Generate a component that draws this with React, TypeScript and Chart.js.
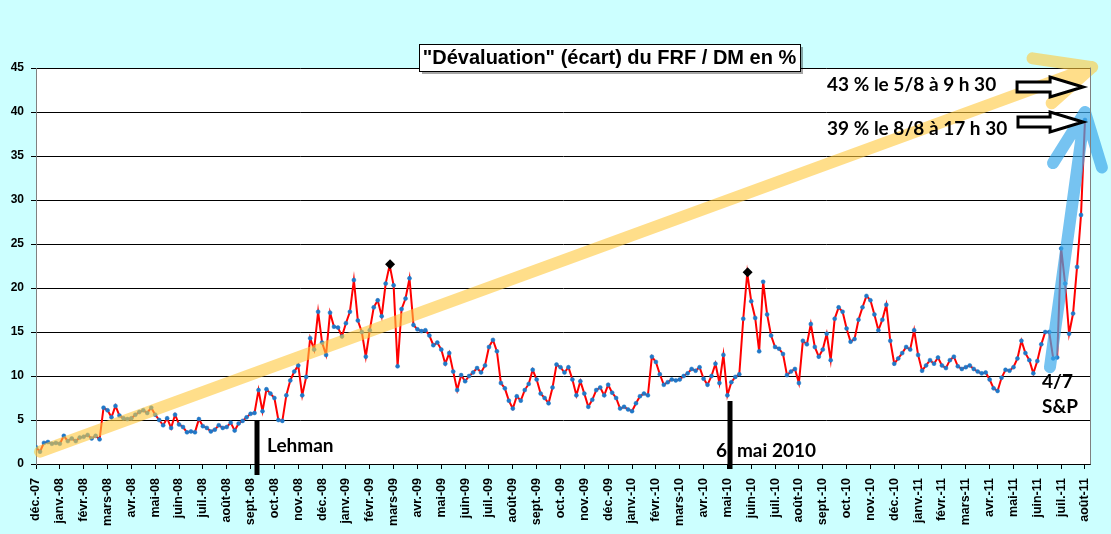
import React, { useEffect, useRef } from 'react';
import { Chart, registerables } from 'chart.js';

Chart.register(...registerables);

// Libellés des mois (un repère par début de mois)
const monthLabels = [
  'déc.-07',
  'janv.-08', 'févr.-08', 'mars-08', 'avr.-08', 'mai-08', 'juin-08', 'juil.-08', 'août-08', 'sept.-08', 'oct.-08', 'nov.-08', 'déc.-08',
  'janv.-09', 'févr.-09', 'mars-09', 'avr.-09', 'mai-09', 'juin-09', 'juil.-09', 'août-09', 'sept.-09', 'oct.-09', 'nov.-09', 'déc.-09',
  'janv.-10', 'févr.-10', 'mars-10', 'avr.-10', 'mai-10', 'juin-10', 'juil.-10', 'août-10', 'sept.-10', 'oct.-10', 'nov.-10', 'déc.-10',
  'janv.-11', 'févr.-11', 'mars-11', 'avr.-11', 'mai-11', 'juin-11', 'juil.-11', 'août-11',
];

const yTicks = [0, 5, 10, 15, 20, 25, 30, 35, 40, 45];

// 6 relevés par mois, écart en %
const perMonth = 6;
const v2007 = [1.9, 1.4, 2.4, 2.5, 2.3, 2.4];
const v2008 = [
  2.3, 3.2, 2.6, 2.9, 2.6, 3.0,
  3.1, 3.3, 2.9, 3.2, 2.8, 6.4,
  6.1, 5.3, 6.6, 5.5, 5.2, 5.1,
  5.2, 5.6, 5.9, 6.1, 5.8, 6.4,
  5.6, 5.0, 4.4, 5.2, 4.1, 5.6,
  4.5, 4.2, 3.6, 3.7, 3.6, 5.1,
  4.3, 4.1, 3.7, 3.9, 4.4, 4.1,
  4.2, 4.7, 3.8, 4.6, 4.9, 5.3,
  5.7, 5.8, 8.4, 6.0, 8.5, 8.0,
  7.5, 5.0, 4.9, 7.8, 9.5, 10.5,
  11.2, 7.8, 9.9, 14.3, 13.0, 17.3,
  13.8, 12.4, 17.2, 15.6, 15.5, 14.5,
];
const v2009 = [
  16.0, 17.3, 20.9, 16.3, 15.0, 12.2,
  15.2, 17.8, 18.6, 16.8, 20.5, 22.6,
  20.3, 11.1, 17.6, 18.8, 21.1, 15.8,
  15.3, 15.1, 15.2, 14.6, 13.5, 13.8,
  13.0, 11.4, 12.6, 10.5, 8.4, 10.1,
  9.4, 10.0, 10.4, 10.9, 10.4, 11.2,
  13.3, 14.1, 12.8, 9.2, 8.6, 7.2,
  6.3, 7.7, 7.2, 8.4, 9.1, 10.7,
  9.6, 8.0, 7.5, 6.9, 8.7, 11.3,
  11.0, 10.4, 11.0, 9.6, 7.8, 9.4,
  8.0, 6.5, 7.3, 8.4, 8.7, 7.8,
  9.0, 8.1, 7.5, 6.3, 6.5, 6.2,
];
const v2010 = [
  6.0, 6.9, 7.7, 8.0, 7.8, 12.2,
  11.6, 10.2, 9.0, 9.3, 9.6, 9.5,
  9.6, 10.0, 10.3, 10.8, 10.6, 11.0,
  9.7, 9.0, 10.0, 11.4, 9.2, 12.4,
  7.8, 9.3, 9.9, 10.2, 16.5, 21.7,
  18.5, 16.6, 12.8, 20.7, 17.0, 14.6,
  13.3, 13.1, 12.5, 10.1, 10.5, 10.8,
  9.2, 14.0, 13.6, 15.9, 13.3, 12.2,
  13.0, 14.8, 11.8, 16.5, 17.8, 17.3,
  15.4, 13.9, 14.2, 16.4, 17.8, 19.1,
  18.6, 17.0, 15.2, 16.4, 18.1, 14.0,
  11.4, 12.0, 12.6, 13.3, 13.0, 15.2,
];
const v2011 = [
  12.4, 10.6, 11.2, 11.8, 11.4, 12.1,
  11.2, 10.9, 11.8, 12.2, 11.1, 10.8,
  11.0, 11.2, 10.8, 10.5, 10.3, 10.4,
  9.6, 8.6, 8.3, 9.8, 10.7, 10.6,
  11.0, 12.0, 14.0, 12.6, 11.8, 10.3,
  11.7, 13.6, 15.0, 15.0, 12.0, 12.1,
  24.5, 20.5, 14.8, 17.1, 22.4, 28.3,
  39.1,
];

// Pics marqués d'un losange noir
const peakMonths = [14.85, 29.85];
const peakValues = [22.7, 21.8];

const series = [...v2007, ...v2008, ...v2009, ...v2010, ...v2011];
const points = series.map((y, i) => ({ x: i / perMonth, y }));
const peaks = peakMonths.map((x, i) => ({ x, y: peakValues[i] }));

const FONT = "'Liberation Sans', Arial, sans-serif";
const NOTE_FONT = "Lato, 'Noto Sans', sans-serif";

const decorations = {
  id: 'decorations',
  beforeDraw(chart: any) {
    const { ctx, chartArea: a } = chart;
    ctx.save();
    ctx.fillStyle = '#ccffff';
    ctx.fillRect(0, 0, chart.width, chart.height);
    ctx.fillStyle = '#ffffff';
    ctx.fillRect(a.left, a.top, a.right - a.left, a.bottom - a.top);
    ctx.restore();
  },
  afterDatasetsDraw(chart: any) {
    const { ctx, chartArea: a } = chart;
    const sx = chart.scales.x;
    const sy = chart.scales.y;
    const px = (v: number) => sx.getPixelForValue(v);
    const py = (v: number) => sy.getPixelForValue(v);
    ctx.save();

    // grosse flèche jaune (tendance)
    ctx.strokeStyle = 'rgba(255, 200, 60, 0.6)';
    ctx.lineWidth = 12;
    ctx.lineCap = 'round';
    ctx.lineJoin = 'round';
    ctx.beginPath();
    ctx.moveTo(px(0.17), py(1.4));
    ctx.lineTo(px(44.3), py(45.1));
    ctx.moveTo(px(41.8), py(46.1));
    ctx.lineTo(px(44.3), py(45.1));
    ctx.lineTo(px(42.6), py(41.0));
    ctx.stroke();

    // flèche bleue (4/7 S&P)
    ctx.strokeStyle = 'rgba(60, 170, 235, 0.7)';
    ctx.beginPath();
    ctx.moveTo(px(42.53), py(11.0));
    ctx.lineTo(px(44.0), py(40.0));
    ctx.moveTo(px(42.66), py(34.2));
    ctx.lineTo(px(44.0), py(40.0));
    ctx.lineTo(px(44.71), py(33.7));
    ctx.stroke();

    // repères verticaux
    ctx.fillStyle = '#000000';
    ctx.fillRect(px(9.27) - 2.5, py(4.9), 5, py(-1.25) - py(4.9));
    ctx.fillRect(px(29.11) - 2.5, py(7.16), 5, py(-0.57) - py(7.16));

    // flèches creuses noires
    const hollow = (x0: number, x1: number, yv: number) => {
      const l = px(x0);
      const r = px(x1);
      const c = py(yv);
      const h = r - 33;
      ctx.beginPath();
      ctx.moveTo(l, c - 5);
      ctx.lineTo(h, c - 5);
      ctx.lineTo(h, c - 10);
      ctx.lineTo(r, c);
      ctx.lineTo(h, c + 10);
      ctx.lineTo(h, c + 5);
      ctx.lineTo(l, c + 5);
      ctx.closePath();
      ctx.fillStyle = '#ffffff';
      ctx.fill();
      ctx.lineWidth = 3;
      ctx.lineJoin = 'miter';
      ctx.strokeStyle = '#000000';
      ctx.stroke();
    };
    hollow(41.15, 43.92, 42.84);
    hollow(41.19, 43.92, 38.86);

    // textes
    ctx.fillStyle = '#000000';
    ctx.font = `bold 19px ${NOTE_FONT}`;
    ctx.textBaseline = 'alphabetic';
    ctx.textAlign = 'left';
    ctx.fillText('43 % le 5/8 à 9 h 30', px(33.18), py(42.4));
    ctx.fillText('39 % le 8/8 à 17 h 30', px(33.18), py(37.4));
    ctx.fillText('Lehman', px(9.69), py(1.36));
    ctx.fillText('6', px(28.52), py(0.8));
    ctx.fillText('mai 2010', px(29.4), py(0.8));
    ctx.fillText('4/7', px(42.2), py(8.6));
    ctx.fillText('S&P', px(42.2), py(5.8));

    // bord droit de la zone de tracé
    ctx.strokeStyle = '#808080';
    ctx.lineWidth = 1;
    ctx.beginPath();
    ctx.moveTo(a.right + 0.5, a.top);
    ctx.lineTo(a.right + 0.5, a.bottom);
    ctx.stroke();
    ctx.restore();
  },
  afterDraw(chart: any) {
    const { ctx } = chart;
    ctx.save();
    // titre encadré
    const tx = 419;
    const ty = 44;
    const tw = 381;
    const th = 27;
    ctx.fillStyle = 'rgba(0, 0, 0, 0.35)';
    ctx.fillRect(tx + 3, ty + 3, tw, th);
    ctx.fillStyle = '#ffffff';
    ctx.fillRect(tx, ty, tw, th);
    ctx.strokeStyle = '#000000';
    ctx.lineWidth = 1;
    ctx.strokeRect(tx + 0.5, ty + 0.5, tw, th);
    ctx.fillStyle = '#000000';
    ctx.font = `bold 20px ${FONT}`;
    ctx.textAlign = 'center';
    ctx.textBaseline = 'middle';
    ctx.fillText('"Dévaluation" (écart) du FRF / DM en %', tx + tw / 2, ty + th / 2 + 1);
    ctx.restore();
  },
};

const DevaluationChart: React.FC = () => {
  const canvasRef = useRef<HTMLCanvasElement | null>(null);
  const chartRef = useRef<Chart | null>(null);

  useEffect(() => {
    if (!canvasRef.current) return;
    if (chartRef.current) chartRef.current.destroy();

    chartRef.current = new Chart(canvasRef.current, {
      type: 'line',
      data: {
        datasets: [
          {
            label: 'pics',
            data: peaks,
            showLine: false,
            pointStyle: 'rectRot',
            pointRadius: 5,
            backgroundColor: '#000000',
            borderColor: '#000000',
            borderWidth: 0,
          },
          {
            label: 'FRF / DM',
            data: points,
            borderColor: '#ff0000',
            borderWidth: 2,
            pointRadius: 2,
            pointBackgroundColor: '#1f78c8',
            pointBorderColor: '#1f78c8',
            pointBorderWidth: 0.5,
            tension: 0,
          },
        ],
      },
      options: {
        responsive: false,
        animation: false,
        layout: { padding: { top: 68, right: 21, left: 0, bottom: 0 } },
        plugins: {
          legend: { display: false },
          tooltip: { enabled: false },
          title: { display: false },
        },
        scales: {
          x: {
            type: 'linear',
            min: 0,
            max: 44.21,
            afterBuildTicks: (scale: any) => {
              scale.ticks = monthLabels.map((_, i) => ({ value: i }));
            },
            afterFit: (scale: any) => {
              scale.height = 70;
            },
            ticks: {
              autoSkip: false,
              minRotation: 90,
              maxRotation: 90,
              padding: 9,
              color: '#000000',
              font: { family: FONT, size: 12.5, weight: 'bold' },
              callback: (value: any) => monthLabels[Math.round(Number(value))] ?? '',
            },
            grid: { drawOnChartArea: false, drawTicks: true, tickLength: 5, color: '#000000' },
            border: { display: true, color: '#000000', width: 1 },
          },
          y: {
            min: 0,
            max: 45,
            afterBuildTicks: (scale: any) => {
              scale.ticks = yTicks.map((v) => ({ value: v }));
            },
            afterFit: (scale: any) => {
              scale.width = 36;
            },
            ticks: {
              padding: 7,
              color: '#000000',
              font: { family: FONT, size: 12, weight: 'bold' },
            },
            grid: { color: '#000000', lineWidth: 1, tickLength: 5 },
            border: { display: true, color: '#808080', width: 1 },
          },
        },
      },
      plugins: [decorations],
    });

    return () => {
      if (chartRef.current) {
        chartRef.current.destroy();
        chartRef.current = null;
      }
    };
  }, []);

  return <canvas ref={canvasRef} width={1111} height={534} style={{ display: 'block' }} />;
};

export default function App() {
  return (
    <div style={{ position: 'fixed', left: 0, top: 0, width: 1111, height: 534, background: '#ccffff' }}>
      <DevaluationChart />
    </div>
  );
}
